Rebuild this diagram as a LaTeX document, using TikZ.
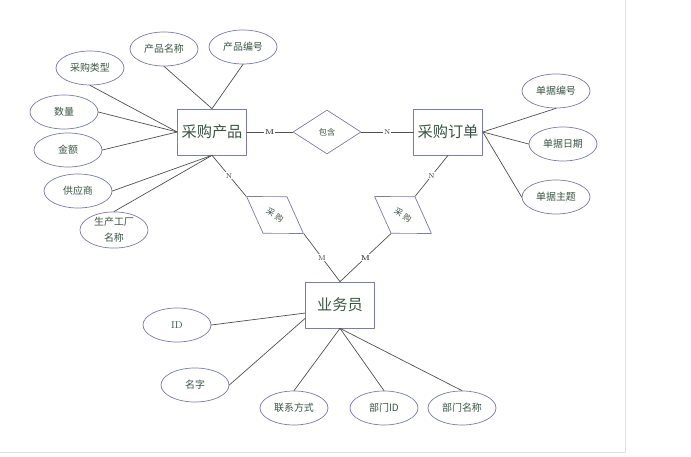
\documentclass[tikz,border=0pt]{standalone}
\usepackage{fontspec}
\newfontfamily\cjk{Noto Sans CJK SC}
\usetikzlibrary{shapes.geometric}
\definecolor{erborder}{HTML}{7C7CA6}
\definecolor{ertext}{HTML}{3A5445}
\definecolor{erline}{HTML}{505050}
\tikzset{
  every picture/.append style={line cap=round,line join=round},
  er entity/.style={draw=erborder,line width=0.6pt,fill=white,minimum width=2.07cm,minimum height=1.38cm,inner sep=0pt,text=ertext,font=\cjk\fontsize{13}{15}\selectfont},
  er attr/.style={ellipse,draw=erborder,line width=0.6pt,fill=white,minimum width=2.04cm,minimum height=1.02cm,inner sep=0pt,text=ertext,font=\cjk\fontsize{8.5}{10}\selectfont},
  er rel/.style={diamond,draw=erborder,line width=0.6pt,fill=white,minimum width=2.04cm,minimum height=1.32cm,inner sep=0pt,text=ertext,font=\cjk\fontsize{7}{8}\selectfont},
  er link/.style={erline,line width=0.6pt},
  er card/.style={fill=white,inner sep=0.8pt,text=black!80,font=\fontsize{6}{7}\selectfont}
}

\begin{document}
\begin{tikzpicture}[x=0.03cm,y=-0.03cm]
\useasboundingbox (0,0) rectangle (691,457);
\draw[black!12] (625,0) -- (625,452) -- (0,452);
% entities and relations
\node[er entity] (prod) at (212,132) {采购产品};
\node[er entity] (order) at (448,132) {采购订单};
\node[er entity] (staff) at (340,305) {业务员};
\node[er rel] (contain) at (327,132) {包含};
\node[er rel,rotate=-33] (buyA) at (275,215) {采\hspace{1.5pt}购};
\node[er rel,rotate=-33] (buyB) at (403,215) {采\hspace{1.5pt}购};
% attributes
\node[er attr] (pname) at (164,49) {产品名称};
\node[er attr] (pno) at (243,47) {产品编号};
\node[er attr] (ptype) at (90,68) {采购类型};
\node[er attr] (qty) at (64,112) {数量};
\node[er attr] (amount) at (68,150) {金额};
\node[er attr] (supplier) at (78,191) {供应商};
\node[er attr,align=center,font=\cjk\fontsize{8.5}{14}\selectfont] (factory) at (114,230) {生产工厂\\名称};
\node[er attr] (billno) at (556,91) {单据编号};
\node[er attr] (billdate) at (563,144) {单据日期};
\node[er attr] (billtopic) at (556,197) {单据主题};
\node[er attr,font=\fontsize{8.5}{10}\selectfont] (sid) at (177,325) {ID};
\node[er attr] (sname) at (195,385) {名字};
\node[er attr] (contact) at (294,408) {联系方式};
\node[er attr] (deptid) at (384,408) {{\cjk 部门}ID};
\node[er attr] (deptname) at (462,408) {部门名称};
% links
\draw[er link] (pname.south) -- (prod.north);
\draw[er link] (pno.south) -- (prod.north);
\draw[er link] (ptype.south) -- (prod.west);
\draw[er link] (qty.east) -- (prod.west);
\draw[er link] (amount.east) -- (prod.west);
\draw[er link] (supplier.east) -- (prod.south);
\draw[er link] (factory.north) -- (prod.south);
\draw[er link] (order.east) -- (billno.south);
\draw[er link] (order.east) -- (billdate.west);
\draw[er link] (order.east) -- (billtopic.west);
\draw[er link] (sid.east) -- (staff.193);
\draw[er link] (sname.east) -- (staff.201);
\draw[er link] (staff.south) -- (contact.north);
\draw[er link] (staff.south) -- (deptid.north);
\draw[er link] (staff.south) -- (deptname.north);
\draw[er link] (prod.east) -- node[er card,font=\fontsize{6}{7}\selectfont\bfseries]{M} (contain.west);
\draw[er link] (contain.east) -- node[er card]{N} (order.west);
\draw[er link] (prod.south) -- node[er card]{N} (buyA.west);
\draw[er link] (buyA.east) -- node[er card]{M} (staff.north);
\draw[er link] (order.south) -- node[er card]{N} (buyB.north);
\draw[er link] (buyB.south) -- node[er card,font=\fontsize{6}{7}\selectfont\bfseries]{M} (staff.north);
\end{tikzpicture}
\end{document}
